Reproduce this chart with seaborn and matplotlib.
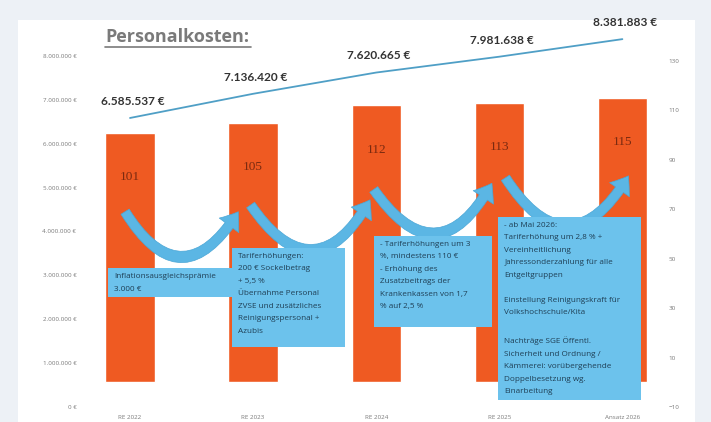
import numpy as np
import matplotlib
matplotlib.use("Agg")
import matplotlib.pyplot as plt
import seaborn as sns
from matplotlib.patches import Rectangle
from matplotlib.lines import Line2D

# --- data ---
categories = ["RE 2022", "RE 2023", "RE 2024", "RE 2025", "Ansatz 2026"]
staff_counts = [101, 105, 112, 113, 115]
costs = [6585537, 7136420, 7620665, 7981638, 8381883]
cost_labels = ["6.585.537 €", "7.136.420 €", "7.620.665 €", "7.981.638 €", "8.381.883 €"]
left_ticks = [0, 1000000, 2000000, 3000000, 4000000, 5000000, 6000000, 7000000, 8000000]
left_tick_labels = ["0 €", "1.000.000 €", "2.000.000 €", "3.000.000 €", "4.000.000 €",
                    "5.000.000 €", "6.000.000 €", "7.000.000 €", "8.000.000 €"]
right_ticks = [-10, 10, 30, 50, 70, 90, 110, 130]
notes = [
    "Inflationsausgleichsprämie\n3.000 €",
    "Tariferhöhungen:\n200 € Sockelbetrag\n+ 5,5 %\nÜbernahme Personal\nZVSE und zusätzliches\nReinigungspersonal +\nAzubis",
    "- Tariferhöhungen um 3\n%, mindestens 110 €\n- Erhöhung des\nZusatzbeitrags der\nKrankenkassen von 1,7\n% auf 2,5 %",
    "- ab Mai 2026:\nTariferhöhung um 2,8 % +\nVereinheitlichung\nJahressonderzahlung für alle\nEntgeltgruppen\n\nEinstellung Reinigungskraft für\nVolkshochschule/Kita\n\nNachträge SGE Öffentl.\nSicherheit und Ordnung /\nKämmerei: vorübergehende\nDoppelbesetzung wg.\nEinarbeitung",
]

# --- colours ---
BAR = "#ef5a22"
LINE = "#4f9fc6"
ARROW = "#5bb6e4"
BOX = "#6cc2ec"

sns.set_style("white")
plt.rcParams["font.family"] = ["Open Sans", "DejaVu Sans"]

fig = plt.figure(figsize=(7.11, 4.22), dpi=100, facecolor="#edf1f6")
fig.patches.append(Rectangle((18 / 711, 0), 677 / 711, 402 / 422, transform=fig.transFigure,
                             facecolor="white", edgecolor="none", zorder=-5))

ax = fig.add_axes([82 / 711, 15 / 422, 581 / 711, 377 / 422])
ax.set_facecolor("none")
ax2 = ax.twinx()
ax2.set_facecolor("none")

# bars (head count) on the right axis
sns.barplot(x=categories, y=staff_counts, ax=ax2, color=BAR, width=0.4, saturation=1, zorder=2)
for i, v in enumerate(staff_counts):
    ax2.text(i, v - 18, str(v), ha="center", va="center", fontsize=9.5,
             family="Liberation Serif", color="#7a2a10", zorder=3)

# line (personnel costs) on the left axis
x_pos = np.arange(len(costs))
sns.lineplot(x=x_pos, y=costs, ax=ax, color=LINE, linewidth=1.3)
for i, (v, lab) in enumerate(zip(costs, cost_labels)):
    ax.annotate(lab, (i, v), xytext=(2, 12), textcoords="offset points", ha="center",
                va="center", fontsize=8.6, fontweight="bold", family=["Lato", "DejaVu Sans"],
                color="#333333", annotation_clip=False)

ax.set_ylim(0, 8.59e6)
ax2.set_ylim(-10, 142.5)
ax.set_xlim(-0.39, 4.33)
ax.set_yticks(left_ticks)
ax.set_yticklabels(left_tick_labels)
ax2.set_yticks(right_ticks)
ax.set_xticks(x_pos)
ax.set_xticklabels(categories)
for a in (ax, ax2):
    a.tick_params(length=0, labelsize=4.5, labelcolor="#7a7a7a", pad=4)
    a.set_xlabel("")
    a.set_ylabel("")
    for s in a.spines.values():
        s.set_visible(False)
ax.tick_params(axis="x", pad=6)
ax2.tick_params(axis="x", labelbottom=False)

# curved arrows between the bars
arrows = [((-0.04, 69.0), (0.88, 69.0)),
          ((0.98, 71.7), (1.95, 73.8)),
          ((1.98, 78.0), (2.94, 80.5)),
          ((3.05, 82.7), (4.05, 83.5))]
for start, end in arrows:
    ax2.annotate("", xy=end, xytext=start,
                 arrowprops=dict(arrowstyle="simple,head_length=0.85,head_width=1.25,tail_width=0.5",
                                 connectionstyle="arc3,rad=0.8", mutation_scale=14,
                                 facecolor=ARROW, edgecolor="#4aa6d6", lw=0.5,
                                 shrinkA=0, shrinkB=0),
                 zorder=4)

# note boxes: (left, bottom, width, height) in bar-axis units
boxes = [(-0.18, 34.5, 1.30, 11.7),
         (0.83, 14.3, 0.92, 40.0),
         (1.98, 22.4, 0.96, 36.8),
         (2.99, -7.2, 1.16, 74.1)]
for (x0, y0, w, h), txt in zip(boxes, notes):
    ax2.add_patch(Rectangle((x0, y0), w, h, facecolor=BOX, edgecolor="none", zorder=5))
    ax2.text(x0 + 0.05, y0 + h - 2.0, txt, ha="left", va="top", fontsize=5.9,
             color="#1f3f55", linespacing=2.1, zorder=6)

# title with underline
fig.text(105 / 711, 1 - 37 / 422, "Personalkosten:", ha="left", va="center",
         fontsize=13, fontweight="bold", color="#7a7a7a")
fig.lines.append(Line2D([105 / 711, 251 / 711], [1 - 47 / 422, 1 - 47 / 422],
                        transform=fig.transFigure, color="#7a7a7a", linewidth=1.2))

fig.savefig("out.png", dpi=100, facecolor=fig.get_facecolor())
